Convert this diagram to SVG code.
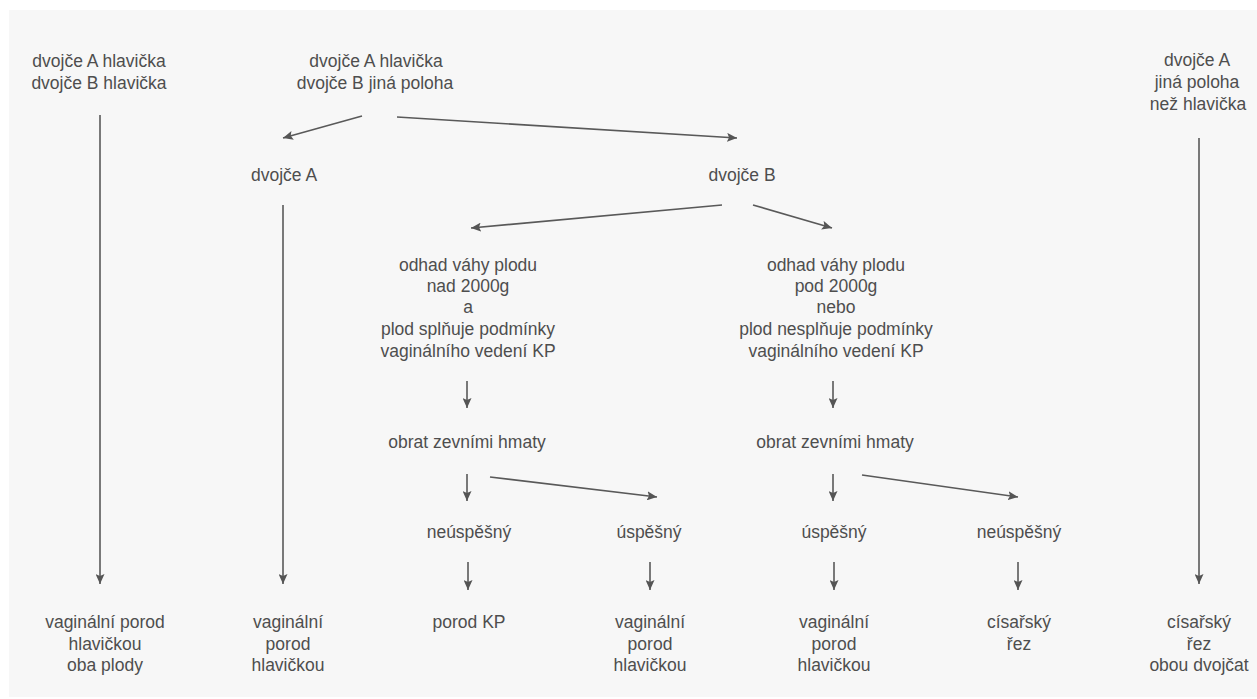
<svg xmlns="http://www.w3.org/2000/svg" width="1257" height="699" viewBox="0 0 1257 699">
<style>
text{font-family:"Liberation Sans",Arial,sans-serif;font-size:17.5px;fill:#4e4e4e;text-anchor:middle}
.c path{fill:none;stroke:#595959;stroke-width:1.6;marker-end:url(#ah)}
</style>
<defs>
<marker id="ah" markerWidth="11" markerHeight="9" refX="10" refY="4.5" orient="auto" markerUnits="userSpaceOnUse">
<path d="M0,0 L10,4.5 L0,9 L2,4.5 z" fill="#555"/>
</marker>
</defs>
<rect width="1257" height="699" fill="#fff"/>
<rect x="9" y="10" width="1248" height="687" fill="#f7f7f7"/>
<g class="c" id="connectors">
<path d="M100,115 L100,584"/>
<path d="M283,205 L283,584"/>
<path d="M1199,138 L1199,584"/>
<path d="M362,116 L283,138"/>
<path d="M397,117 L737,138"/>
<path d="M722,205 L471,228"/>
<path d="M753,205 L832,228"/>
<path d="M467,381 L467,408"/>
<path d="M833,381 L833,408"/>
<path d="M467,474 L467,501"/>
<path d="M833,474 L833,501"/>
<path d="M490,477 L657,497"/>
<path d="M862,475 L1018,497"/>
<path d="M468,562 L468,590"/>
<path d="M650,562 L650,590"/>
<path d="M834,562 L834,590"/>
<path d="M1018,562 L1018,590"/>
</g>
<g id="n_bothHead"><text x="99" y="67">dvojče A hlavička</text><text x="99" y="89">dvojče B hlavička</text></g>
<g id="n_AheadBother"><text x="376" y="67">dvojče A hlavička</text><text x="375" y="89">dvojče B jiná poloha</text></g>
<g id="n_Aother"><text x="1197" y="66">dvojče A</text><text x="1197" y="88">jiná poloha</text><text x="1198" y="110">než hlavička</text></g>
<g id="n_A"><text x="284" y="181">dvojče A</text></g>
<g id="n_B"><text x="742" y="181">dvojče B</text></g>
<g id="n_over"><text x="468" y="271">odhad váhy plodu</text><text x="468" y="292">nad 2000g</text><text x="468" y="313">a</text><text x="468" y="335">plod splňuje podmínky</text><text x="468" y="357">vaginálního vedení KP</text></g>
<g id="n_under"><text x="836" y="271">odhad váhy plodu</text><text x="836" y="292">pod 2000g</text><text x="836" y="313">nebo</text><text x="836" y="335">plod nesplňuje podmínky</text><text x="836" y="357">vaginálního vedení KP</text></g>
<g id="n_obratL"><text x="467" y="448">obrat zevními hmaty</text></g>
<g id="n_obratR"><text x="835" y="448">obrat zevními hmaty</text></g>
<g id="n_neuspL"><text x="469" y="538">neúspěšný</text></g>
<g id="n_uspL"><text x="649" y="538">úspěšný</text></g>
<g id="n_uspR"><text x="834" y="538">úspěšný</text></g>
<g id="n_neuspR"><text x="1019" y="538">neúspěšný</text></g>
<g id="n_vagBoth"><text x="105" y="628">vaginální porod</text><text x="105" y="650">hlavičkou</text><text x="105" y="671">oba plody</text></g>
<g id="n_vagA"><text x="288" y="628">vaginální</text><text x="288" y="650">porod</text><text x="288" y="671">hlavičkou</text></g>
<g id="n_porodKP"><text x="469" y="628">porod KP</text></g>
<g id="n_vagL"><text x="650" y="628">vaginální</text><text x="650" y="650">porod</text><text x="650" y="671">hlavičkou</text></g>
<g id="n_vagR"><text x="834" y="628">vaginální</text><text x="834" y="650">porod</text><text x="834" y="671">hlavičkou</text></g>
<g id="n_cisR"><text x="1019" y="628">císařský</text><text x="1019" y="650">řez</text></g>
<g id="n_cisBoth"><text x="1199" y="628">císařský</text><text x="1199" y="650">řez</text><text x="1199" y="671">obou dvojčat</text></g>
</svg>
